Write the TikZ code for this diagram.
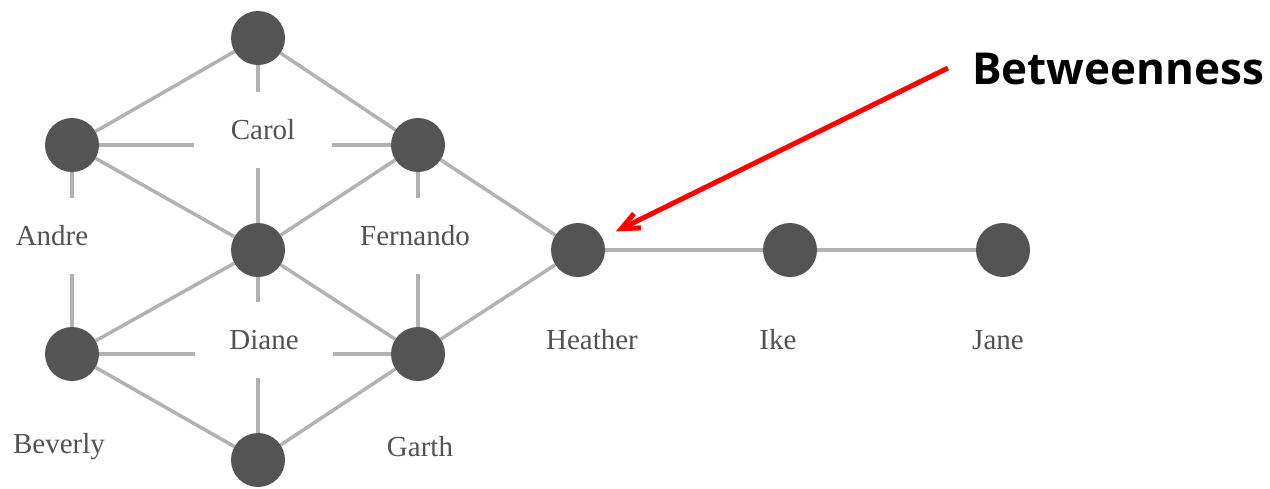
\documentclass[tikz,border=0pt]{standalone}
\usepackage{fontspec}
\setmainfont{Liberation Serif}
\newfontfamily\calloutfont{Open Sans}
\usetikzlibrary{arrows.meta}
\pgfdeclarelayer{background}
\pgfsetlayers{background,main}

\definecolor{nodegray}{RGB}{84,84,84}
\definecolor{edgegray}{RGB}{178,178,178}
\definecolor{textgray}{RGB}{82,82,82}
\definecolor{calloutred}{RGB}{255,0,0}

\begin{document}
\begin{tikzpicture}[x=1pt,y=-1pt,
  person/.style={circle, fill=nodegray, minimum size=54pt, inner sep=0pt},
  tie/.style={draw=edgegray, line width=3.5pt},
  who/.style={fill=white, text=textgray, minimum width=138pt, minimum height=76pt,
              inner sep=0pt, font=\fontsize{29}{32}\selectfont},
  callout/.style={draw=calloutred, line width=5pt,
                  -{Straight Barb[length=18pt,width=16pt]}}]
\useasboundingbox (0,0) rectangle (1270,488);

% people of the kite network
\node[person] (carol)    at (258,38)  {};
\node[person] (andre)    at (72,145)  {};
\node[person] (fernando) at (418,145) {};
\node[person] (diane)    at (258,250) {};
\node[person] (heather)  at (578,250) {};
\node[person] (ike)      at (790,250) {};
\node[person] (jane)     at (1003,250) {};
\node[person] (beverly)  at (72,354)  {};
\node[person] (garth)    at (418,354) {};
\node[person] (ed)       at (258,460) {};

% name tags (white boxes break the ties that run through them)
\node[who] (carolname)    at (263,130) {Carol};
\node[who] (andrename)    at (52,236)  {Andre};
\node[who] (fernandoname) at (415,236) {Fernando};
\node[who] (dianename)    at (264,340) {Diane};
\node[who] (heathername)  at (592,340) {Heather};
\node[who] (ikename)      at (778,340) {Ike};
\node[who] (janename)     at (998,340) {Jane};
\node[who] (beverlyname)  at (59,447)  {Beverly};
\node[who] (garthname)    at (420,447) {Garth};

% ties
\begin{pgfonlayer}{background}
  \draw[tie] (andre) -- (carol);
  \draw[tie] (carol) -- (fernando);
  \draw[tie] (carol) -- (diane);
  \draw[tie] (andre) -- (fernando);
  \draw[tie] (andre) -- (diane);
  \draw[tie] (andre) -- (beverly);
  \draw[tie] (fernando) -- (diane);
  \draw[tie] (fernando) -- (garth);
  \draw[tie] (fernando) -- (heather);
  \draw[tie] (beverly) -- (diane);
  \draw[tie] (diane) -- (garth);
  \draw[tie] (beverly) -- (garth);
  \draw[tie] (diane) -- (ed);
  \draw[tie] (beverly) -- (ed);
  \draw[tie] (ed) -- (garth);
  \draw[tie] (garth) -- (heather);
  \draw[tie] (heather) -- (ike);
  \draw[tie] (ike) -- (jane);
\end{pgfonlayer}

% callout
\node[anchor=west, inner sep=0pt, font=\calloutfont\bfseries\fontsize{44}{50}\selectfont]
  (betweenness) at (972,69) {Betweenness};
\coordinate (calloutstart) at (948,68);
\draw[callout, shorten >=15pt] (calloutstart) -- (heather);
\end{tikzpicture}
\end{document}
